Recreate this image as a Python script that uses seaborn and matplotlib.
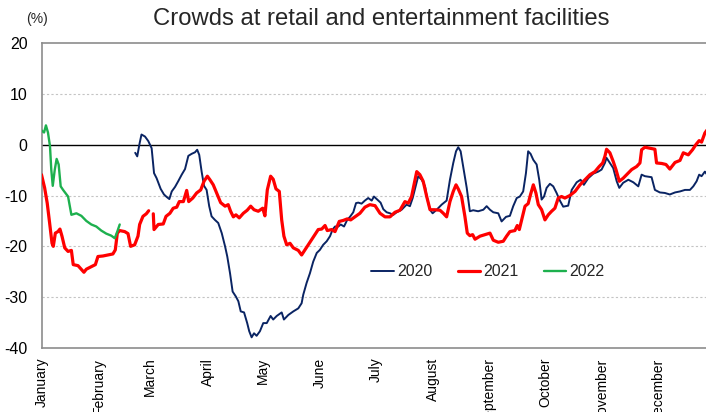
import matplotlib
matplotlib.use("Agg")
import matplotlib.pyplot as plt
import seaborn as sns
import pandas as pd
from matplotlib.lines import Line2D

sns.set_theme(style="white")
plt.rcParams["font.family"] = ["Liberation Sans", "DejaVu Sans"]

# ---------------- data (day of year, value %) ----------------
months = ["January", "February", "March", "April", "May", "June", "July",
          "August", "September", "October", "November", "December"]
month_start_days = [0, 31, 59, 90, 120, 151, 181, 212, 243, 273, 304, 334]

days_2022 = [0, 1.4, 2.4, 3.5, 4.6, 5.3, 6.1, 7.2, 8.2, 9.3, 10.4, 11.7, 14.4, 16.2,
             18.9, 21.6, 24.3, 27.0, 29.7, 32.4, 35.1, 37.8, 39.7, 40.8, 42.4]
vals_2022 = [2.8, 2.4, 3.8, 2.4, -0.3, -4.9, -8.1, -4.9, -2.8, -3.9, -8.2, -8.9, -10.2, -13.8,
             -13.5, -14.0, -15.0, -15.7, -16.1, -16.9, -17.5, -17.9, -18.4, -17.4, -15.7]

# 2021, first segment (January - February)
days_2021a = [0, 1.7, 3.1, 4.4, 5.7, 6.4, 7.5, 8.9, 10.0, 11.1, 12.6, 14.4, 16.2, 17.2, 19.8,
              23.0, 24.3, 27.0, 29.2, 30.6, 33.3, 36.0, 38.7, 40.0, 41.1, 42.4, 45.1, 46.9,
              48.3, 50.5, 52.3, 53.2, 55.0, 56.8, 58.1]
vals_2021a = [-5.9, -8.5, -11.5, -15.4, -19.4, -20.0, -17.4, -17.1, -16.6, -18.0, -20.3, -21.0,
              -20.8, -23.6, -23.8, -25.1, -24.5, -24.0, -23.6, -22.0, -21.9, -21.7, -21.5,
              -20.7, -17.4, -16.9, -17.1, -17.5, -20.0, -19.7, -18.0, -15.7, -14.1, -13.6, -13.0]

# 2021, second segment (March - December)
days_2021b = [60.6, 61.0, 63.3, 66.0, 67.5, 69.6, 71.4, 73.3, 74.7, 76.9, 78.7, 79.8, 82.0,
              84.1, 86.3, 88.1, 89.9, 91.3, 93.1, 95.3, 97.1, 99.5, 101.2, 102.5, 104.0,
              105.4, 107.2, 109.4, 111.5, 113.4, 115.2, 117.5, 119.9, 121.1, 122.4, 124.2,
              125.6, 127.1, 128.9, 130.2, 131.4, 132.9, 134.7, 136.5, 139.2, 141.0, 142.8,
              144.6, 146.4, 148.2, 150.0, 151.9, 153.7, 154.9, 157.3, 159.1, 161.4, 163.6,
              165.7, 167.6, 169.9, 172.6, 175.3, 178.0, 180.8, 183.5, 186.2, 188.9, 191.6,
              194.3, 197.0, 198.8, 200.6, 201.9, 203.4, 205.1, 206.9, 208.8, 210.6, 213.3,
              216.0, 217.8, 219.6, 221.4, 223.2, 224.7, 225.9, 227.7, 229.5, 230.8, 232.2,
              233.7, 235.0, 237.7, 240.4, 243.1, 244.9, 247.6, 250.3, 252.1, 253.9, 256.6,
              257.9, 259.0, 260.3, 262.1, 263.8, 265.1, 266.6, 268.0, 269.3, 271.1, 272.9,
              274.7, 276.5, 278.3, 280.1, 281.9, 283.7, 286.4, 289.2, 291.9, 294.6, 297.3,
              300.0, 302.3, 304.2, 305.4, 306.3, 308.1, 309.9, 311.4, 313.2, 315.3, 317.2,
              319.9, 322.6, 324.4, 325.3, 327.1, 329.8, 332.5, 333.4, 336.2, 338.5, 340.6,
              343.4, 346.1, 347.9, 350.6, 352.9, 354.7, 356.5, 357.8, 359.6, 361.0]
vals_2021b = [-13.6, -16.7, -15.7, -15.6, -14.1, -13.5, -12.5, -12.3, -11.2, -11.2, -9.0, -11.2,
              -10.5, -9.5, -8.9, -7.2, -6.2, -6.9, -7.9, -9.8, -11.4, -12.1, -11.8, -13.1,
              -14.2, -13.8, -14.4, -13.5, -12.9, -12.1, -12.8, -13.1, -12.5, -14.0, -8.9,
              -6.2, -6.8, -8.7, -9.2, -14.8, -18.0, -19.7, -19.4, -20.3, -20.8, -21.7, -20.7,
              -19.7, -18.7, -17.7, -16.7, -16.6, -15.9, -16.9, -16.7, -17.1, -15.1, -14.9,
              -14.6, -14.8, -14.2, -13.5, -12.3, -11.8, -12.0, -13.5, -14.2, -14.2, -13.3,
              -12.9, -11.2, -11.5, -10.2, -7.9, -5.3, -5.9, -7.2, -10.2, -12.8, -12.8, -12.9,
              -13.5, -14.2, -11.2, -9.2, -7.9, -8.7, -10.2, -14.1, -17.4, -17.9, -17.7, -18.6,
              -18.0, -17.7, -17.4, -18.8, -19.2, -19.0, -18.0, -17.1, -16.9, -15.9, -16.7,
              -14.8, -12.1, -11.6, -9.8, -7.9, -9.5, -11.8, -12.8, -14.8, -13.8, -13.1, -12.5,
              -10.5, -10.2, -10.5, -10.0, -9.2, -7.9, -6.9, -5.9, -5.3, -4.3, -3.6, -2.3, -0.9,
              -1.6, -3.3, -4.9, -7.2, -6.6, -5.9, -4.9, -4.3, -3.6, -1.0, -0.5, -0.7, -0.9,
              -3.6, -3.7, -3.9, -4.8, -3.5, -3.1, -1.6, -2.0, -1.0, 0.0, 0.8, 0.5, 2.3, 3.0]

days_2020 = [50.8, 51.9, 53.2, 54.2, 56.1, 57.9, 59.7, 61.0, 62.4, 64.6, 66.4, 67.9, 69.3,
             70.6, 72.4, 74.1, 76.0, 77.8, 79.6, 81.4, 83.2, 84.4, 85.5, 86.8, 88.1, 89.5,
             90.9, 92.2, 94.0, 95.8, 97.7, 99.5, 100.7, 102.2, 103.6, 105.4, 106.7, 108.0,
             109.8, 111.5, 112.6, 113.9, 115.2, 116.6, 118.4, 120.2, 122.1, 124.2, 125.6,
             127.5, 130.2, 131.4, 133.8, 136.5, 139.2, 141.0, 141.9, 143.7, 145.5, 147.3,
             149.2, 150.9, 152.7, 154.6, 156.4, 157.8, 159.1, 160.9, 162.2, 164.0, 165.7,
             167.2, 169.0, 170.5, 171.7, 173.5, 175.3, 177.1, 179.0, 180.2, 182.0, 183.8,
             185.3, 187.1, 188.9, 190.7, 192.5, 195.2, 197.9, 199.7, 201.2, 203.0, 204.2,
             206.1, 207.9, 208.8, 210.6, 212.0, 214.2, 216.9, 219.6, 221.4, 223.2, 224.7,
             225.9, 227.2, 228.6, 230.5, 232.2, 234.0, 236.7, 239.5, 241.3, 243.1, 244.9,
             247.6, 249.4, 251.8, 253.9, 255.7, 257.6, 259.3, 261.1, 262.6, 263.8, 265.1,
             266.6, 268.4, 269.8, 271.1, 272.4, 273.8, 275.6, 277.4, 279.2, 281.0, 282.8,
             285.5, 287.4, 290.1, 292.2, 294.0, 296.4, 299.1, 301.8, 303.6, 305.4, 306.3,
             308.1, 309.9, 311.8, 313.2, 315.3, 318.1, 320.8, 323.5, 325.3, 327.1, 330.7,
             332.5, 335.2, 337.9, 340.6, 343.4, 346.1, 348.8, 351.5, 353.3, 355.1, 356.5,
             357.8, 359.6, 361.0]
vals_2020 = [-1.6, -2.3, 0.3, 2.0, 1.6, 0.7, -0.7, -5.6, -6.6, -8.7, -9.8, -10.3, -10.7, -9.2,
             -8.3, -7.2, -5.9, -4.8, -2.2, -1.8, -1.5, -1.0, -2.0, -5.3, -8.1, -8.9, -12.1,
             -14.1, -14.8, -15.4, -17.4, -20.0, -22.0, -25.3, -28.9, -29.9, -30.8, -32.8,
             -33.0, -35.1, -36.7, -37.9, -37.1, -37.6, -36.7, -35.1, -35.1, -33.7, -34.4,
             -33.7, -33.0, -34.4, -33.5, -32.8, -32.2, -31.2, -29.5, -27.2, -25.3, -23.0,
             -21.3, -20.7, -19.7, -19.0, -18.0, -16.7, -16.1, -16.1, -15.7, -16.1, -14.8,
             -14.2, -13.3, -11.5, -11.4, -11.6, -11.0, -10.5, -11.0, -10.2, -10.8, -11.4,
             -12.7, -13.3, -13.5, -13.8, -13.3, -12.8, -11.8, -12.1, -10.5, -7.9, -6.2, -6.9,
             -8.2, -10.2, -12.8, -13.5, -12.8, -11.8, -11.0, -6.9, -3.6, -1.3, -0.5, -1.3,
             -4.3, -8.5, -13.1, -12.9, -13.1, -12.8, -12.1, -12.8, -13.3, -13.5, -15.1, -14.2,
             -14.0, -12.1, -10.5, -10.2, -9.2, -5.6, -1.3, -1.8, -3.0, -3.9, -6.9, -10.8,
             -10.2, -8.5, -7.7, -8.2, -9.5, -11.0, -12.2, -12.0, -8.9, -7.4, -6.9, -7.9, -6.6,
             -5.7, -5.3, -4.9, -3.6, -2.6, -3.6, -4.6, -7.2, -8.5, -7.5, -6.9, -7.4, -8.2,
             -5.9, -6.2, -6.4, -8.9, -9.4, -9.5, -9.8, -9.4, -9.2, -8.9, -8.9, -8.2, -7.2,
             -5.9, -6.2, -5.3, -6.0]

series_labels = ["2020", "2021", "2022"]
colors = {"2020": "#0a2463", "2021": "#ff0000", "2022": "#1db04e"}
widths = {"2020": 1.4, "2021": 2.3, "2022": 1.7}

df2020 = pd.DataFrame({"day": days_2020, "value": vals_2020})
df2021a = pd.DataFrame({"day": days_2021a, "value": vals_2021a})
df2021b = pd.DataFrame({"day": days_2021b, "value": vals_2021b})
df2022 = pd.DataFrame({"day": days_2022, "value": vals_2022})

# ---------------- figure ----------------
W, H = 706, 412
fig = plt.figure(figsize=(W / 100, H / 100), dpi=100)
ax = fig.add_axes([41.5 / W, 64 / H, 1 - 41.5 / W, 305 / H])

for y in [-30, -20, -10, 10]:
    ax.axhline(y, color="#c4c4c4", lw=0.8, ls=(0, (2, 2)), zorder=0)
ax.axhline(0, color="black", lw=1.0, zorder=1)

sns.lineplot(data=df2020, x="day", y="value", ax=ax, color=colors["2020"],
             lw=widths["2020"], estimator=None, sort=False, zorder=3)
sns.lineplot(data=df2021a, x="day", y="value", ax=ax, color=colors["2021"],
             lw=widths["2021"], estimator=None, sort=False, zorder=4)
sns.lineplot(data=df2021b, x="day", y="value", ax=ax, color=colors["2021"],
             lw=widths["2021"], estimator=None, sort=False, zorder=4)
sns.lineplot(data=df2022, x="day", y="value", ax=ax, color=colors["2022"],
             lw=widths["2022"], estimator=None, sort=False, zorder=5)

ax.set_xlim(0, 360.2)
ax.set_ylim(-40, 20)
ax.set_yticks(range(-40, 21, 10))
ax.set_yticklabels([str(v) for v in range(-40, 21, 10)], fontsize=11.5, color="black")
ax.set_xticks(month_start_days)
ax.set_xticklabels(months, rotation=90, va="top", ha="center", fontsize=10, color="black")
ax.tick_params(axis="y", length=0, pad=10)
ax.tick_params(axis="x", length=0, pad=7)
ax.set_xlabel("")
ax.set_ylabel("")

for side in ["left", "bottom", "top"]:
    ax.spines[side].set_color("#8c8c8c")
    ax.spines[side].set_linewidth(1.2)
ax.spines["right"].set_visible(False)

fig.text(37 / W, 1 - 19 / H, "(%)", ha="center", va="center", fontsize=10)
fig.text(381 / W, 1 - 19 / H, "Crowds at retail and entertainment facilities",
         ha="center", va="center", fontsize=17.2)

handles = [Line2D([0], [0], color=colors[s], lw=widths[s]) for s in series_labels]
fig.legend(handles, series_labels, loc="center", bbox_to_anchor=(488 / W, 1 - 272 / H),
           ncol=3, frameon=False, fontsize=11.5, handlelength=1.4, handletextpad=0.2,
           columnspacing=1.6)

fig.savefig("out.png", dpi=100)
